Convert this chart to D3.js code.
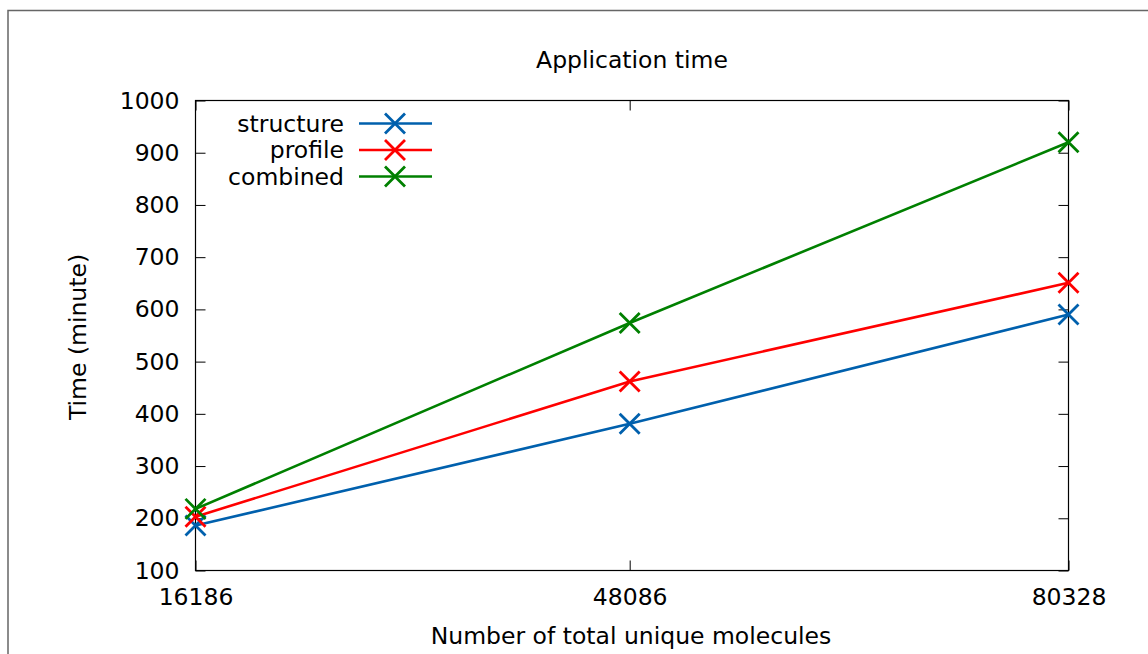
<!DOCTYPE html>
<html>
<head>
<meta charset="utf-8">
<script src="https://cdn.jsdelivr.net/npm/d3@7"></script>
<style>
  html, body { margin: 0; padding: 0; background: #fff; }
  svg { display: block; font-family: "DejaVu Sans", sans-serif; }
</style>
</head>
<body>
<svg id="chart" width="1148" height="654"></svg>
<script>
// Molecule counts on the x axis
const molecules = [16186, 48086, 80328];
// Application time in minutes for each configuration
const structureTime = [186, 381, 590];
const profileTime = [203, 462, 651];
const combinedTime = [218, 574, 920];
const seriesNames = ["structure", "profile", "combined"];
const seriesColors = ["#0060ad", "#ff0000", "#008000"];
const yTicks = [100, 200, 300, 400, 500, 600, 700, 800, 900, 1000];

const seriesValues = [structureTime, profileTime, combinedTime];

const svg = d3.select("#chart");
const plot = { left: 195.5, right: 1068.5, top: 100.5, bottom: 570.5 };

const x = d3.scaleLinear().domain([16186, 80328]).range([plot.left, plot.right]);
const y = d3.scaleLinear().domain([100, 1000]).range([plot.bottom, plot.top]);

// Outer frame (open on the right and bottom edges)
svg.append("rect")
  .attr("x", 8).attr("y", 10.5)
  .attr("width", 1200).attr("height", 700)
  .attr("fill", "none").attr("stroke", "#666").attr("stroke-width", 1.5);

const fontSize = 23.5;

// Left axis with labels, ticks pointing into the plot
svg.append("g")
  .attr("transform", `translate(${plot.left},0)`)
  .call(d3.axisLeft(y).tickValues(yTicks).tickSize(-10).tickPadding(16).tickFormat(d3.format("d")))
  .call(g => g.select(".domain").remove())
  .call(g => g.selectAll("line").attr("stroke", "#000"))
  .call(g => g.selectAll("text").attr("font-size", fontSize).attr("fill", "#000")
    .attr("font-family", "DejaVu Sans, sans-serif"));

// Right mirror ticks
svg.append("g")
  .attr("transform", `translate(${plot.right},0)`)
  .call(d3.axisRight(y).tickValues(yTicks).tickSize(-10).tickFormat(""))
  .call(g => g.select(".domain").remove())
  .call(g => g.selectAll("line").attr("stroke", "#000"));

// Bottom axis with labels
svg.append("g")
  .attr("transform", `translate(0,${plot.bottom})`)
  .call(d3.axisBottom(x).tickValues(molecules).tickSize(-10).tickPadding(18).tickFormat(d3.format("d")))
  .call(g => g.select(".domain").remove())
  .call(g => g.selectAll("line").attr("stroke", "#000"))
  .call(g => g.selectAll("text").attr("font-size", fontSize).attr("fill", "#000")
    .attr("font-family", "DejaVu Sans, sans-serif"));

// Top mirror ticks
svg.append("g")
  .attr("transform", `translate(0,${plot.top})`)
  .call(d3.axisTop(x).tickValues(molecules).tickSize(-10).tickFormat(""))
  .call(g => g.select(".domain").remove())
  .call(g => g.selectAll("line").attr("stroke", "#000"));

// Plot border
svg.append("rect")
  .attr("x", plot.left).attr("y", plot.top)
  .attr("width", plot.right - plot.left).attr("height", plot.bottom - plot.top)
  .attr("fill", "none").attr("stroke", "#000").attr("stroke-width", 1.2);

// Titles
svg.append("text")
  .attr("x", 632).attr("y", 60).attr("text-anchor", "middle")
  .attr("dominant-baseline", "central").attr("font-size", fontSize)
  .text("Application time");

svg.append("text")
  .attr("x", 631).attr("y", 636).attr("text-anchor", "middle")
  .attr("dominant-baseline", "central").attr("font-size", fontSize)
  .text("Number of total unique molecules");

svg.append("text")
  .attr("transform", "translate(78,337) rotate(-90)")
  .attr("text-anchor", "middle").attr("dominant-baseline", "central")
  .attr("font-size", fontSize)
  .text("Time (minute)");

const line = d3.line().x((d, i) => x(molecules[i])).y(d => y(d));
const crossSize = 10;

function cross(g, cx, cy, color) {
  g.append("path")
    .attr("d", `M${cx - crossSize},${cy - crossSize}L${cx + crossSize},${cy + crossSize}M${cx - crossSize},${cy + crossSize}L${cx + crossSize},${cy - crossSize}`)
    .attr("stroke", color).attr("stroke-width", 2.8).attr("fill", "none");
}

seriesValues.forEach((vals, s) => {
  const g = svg.append("g");
  g.append("path")
    .datum(vals)
    .attr("d", line)
    .attr("fill", "none")
    .attr("stroke", seriesColors[s])
    .attr("stroke-width", 2.6);
  vals.forEach((v, i) => cross(g, x(molecules[i]), y(v), seriesColors[s]));
});

// Legend
const legendY = [123.5, 150, 176.5];
seriesNames.forEach((name, s) => {
  const ly = legendY[s];
  svg.append("text")
    .attr("x", 344).attr("y", ly).attr("text-anchor", "end")
    .attr("dominant-baseline", "central").attr("font-size", fontSize)
    .text(name);
  const g = svg.append("g");
  g.append("line")
    .attr("x1", 359).attr("x2", 432).attr("y1", ly).attr("y2", ly)
    .attr("stroke", seriesColors[s]).attr("stroke-width", 2.6);
  cross(g, 395, ly, seriesColors[s]);
});
</script>
</body>
</html>
